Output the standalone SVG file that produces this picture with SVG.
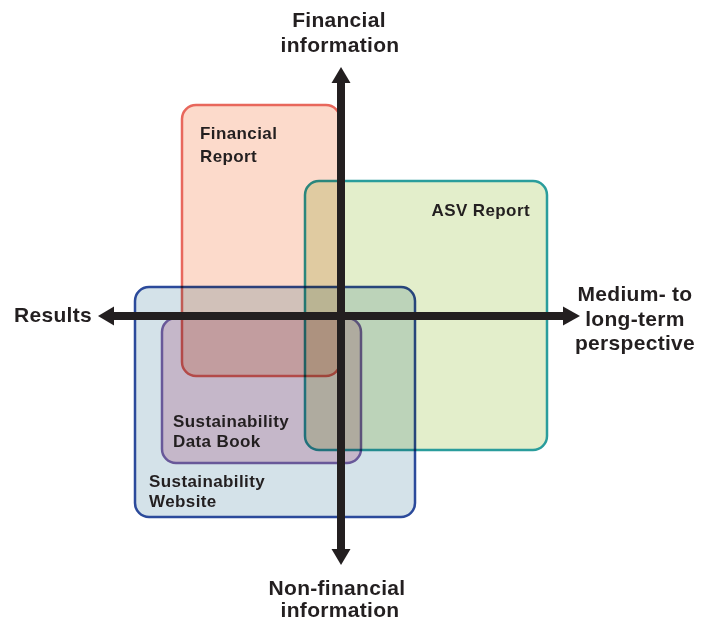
<svg xmlns="http://www.w3.org/2000/svg" width="713" height="621" viewBox="0 0 713 621">
<style>
.box{stroke-width:2.5;mix-blend-mode:multiply}
.t{font-family:"Liberation Sans",Arial,sans-serif;font-weight:bold;fill:#231f20}
.ax{font-size:21px;letter-spacing:0.3px}
.lb{font-size:17px;letter-spacing:0.4px}
.arrow{fill:#231f20}
</style>
<rect width="713" height="621" fill="#ffffff"/>
<g id="financial-report">
<rect class="box" x="182" y="105" width="158" height="271" rx="14" fill="#fcdacb" stroke="#e8675c"/>
<text class="t lb" x="200" y="139">Financial</text>
<text class="t lb" x="200" y="162">Report</text>
</g>
<g id="asv-report">
<rect class="box" x="305" y="181" width="242" height="269" rx="14" fill="#e3eecb" stroke="#2a9d9c"/>
<text class="t lb" x="530" y="216" text-anchor="end">ASV Report</text>
</g>
<g id="sustainability-website">
<rect class="box" x="135" y="287" width="280" height="230" rx="14" fill="#d4e2e9" stroke="#2b4a9b"/>
<text class="t lb" x="149" y="487">Sustainability</text>
<text class="t lb" x="149" y="507">Website</text>
</g>
<g id="sustainability-data-book">
<rect class="box" x="162" y="318" width="199" height="145" rx="14" fill="#edcfdc" stroke="#7d63a8"/>
<text class="t lb" x="173" y="427">Sustainability</text>
<text class="t lb" x="173" y="447">Data Book</text>
</g>
<g id="connectors">
<rect class="arrow" x="337" y="82" width="8" height="468"/>
<polygon class="arrow" points="341,67 350.5,83 331.5,83"/>
<polygon class="arrow" points="341,565 350.5,549 331.5,549"/>
<rect class="arrow" x="112" y="312" width="452" height="8"/>
<polygon class="arrow" points="98,316 114,306.5 114,325.5"/>
<polygon class="arrow" points="580,316 563,306.5 563,325.5"/>
</g>
<g id="axis-labels">
<text class="t ax" x="339" y="27" text-anchor="middle">Financial</text>
<text class="t ax" x="340" y="52" text-anchor="middle">information</text>
<text class="t ax" x="14" y="322">Results</text>
<text class="t ax" x="635" y="301" text-anchor="middle">Medium- to</text>
<text class="t ax" x="635" y="326" text-anchor="middle">long-term</text>
<text class="t ax" x="635" y="350" text-anchor="middle">perspective</text>
<text class="t ax" x="337" y="595" text-anchor="middle">Non-financial</text>
<text class="t ax" x="340" y="617" text-anchor="middle">information</text>
</g>
</svg>
